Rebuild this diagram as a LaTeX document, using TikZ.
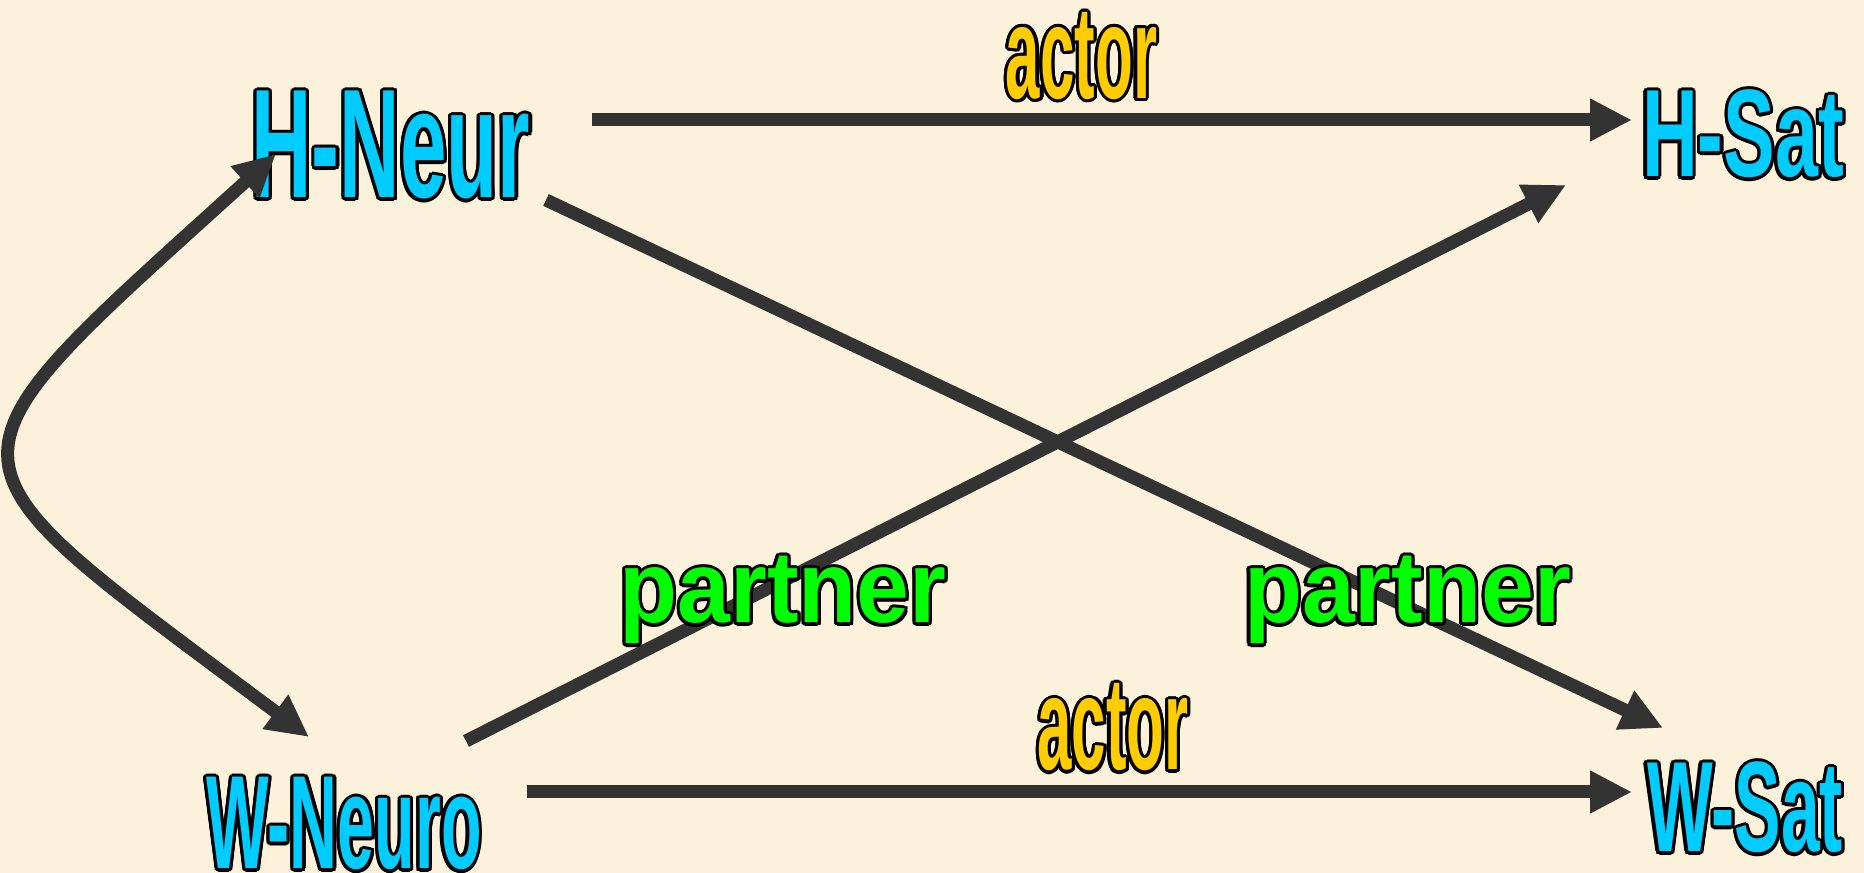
\documentclass[tikz,border=0pt]{standalone}
\usepackage{fontspec}
\setmainfont{Liberation Sans}
\usepackage{graphicx}
\usepackage{contour}
\usetikzlibrary{arrows.meta}

\definecolor{paper}{RGB}{252,242,220}
\definecolor{ink}{RGB}{51,51,51}
\definecolor{neurblue}{RGB}{0,204,255}
\definecolor{actorgold}{RGB}{255,204,0}
\definecolor{partnergreen}{RGB}{0,255,0}

\contourlength{0.9pt}
% outlined, stretched word: colour, x-scale, y-scale, text
\newcommand\wordart[4]{\contour{black}{\textcolor{#1}{\scalebox{#2}[#3]{#4}}}}

\tikzset{
	lbl/.style={inner sep=0pt, anchor=base, font=\fontsize{20pt}{24pt}\selectfont\bfseries},
	conn/.style={draw=ink, line width=3.7pt, -{Triangle[length=4.2mm,width=4mm]}},
}

\begin{document}
\begin{tikzpicture}
			\fill[paper] (0,0) rectangle (18.64,-8.73);
			\useasboundingbox (0,0) rectangle (18.64,-8.73);
			\node[lbl] (hneur) at (3.91,-1.98) {\wordart{neurblue}{1.19}{2.205}{H-Neur}};
			\node[lbl] (hsat) at (17.43,-1.77) {\wordart{neurblue}{1.10}{1.77}{H-Sat}};
			\node[lbl] (wneuro) at (3.44,-8.69) {\wordart{neurblue}{0.944}{1.89}{W-Neuro}};
			\node[lbl] (wsat) at (17.45,-8.52) {\wordart{neurblue}{0.99}{1.83}{W-Sat}};
			\coordinate (hn-r) at (5.92,-1.20);
			\coordinate (hs-l) at (16.32,-1.20);
			\coordinate (wn-r) at (5.27,-7.92);
			\coordinate (ws-l) at (16.32,-7.92);
			\coordinate (hn-d) at (5.46,-2.00);
			\coordinate (ws-u) at (16.63,-7.28);
			\coordinate (wn-u) at (4.66,-7.41);
			\coordinate (hs-d) at (15.66,-1.85);
			\coordinate (hn-l) at (2.76,-1.54);
			\coordinate (wn-l) at (3.09,-7.37);
			\draw[conn] (hn-r) -- (hs-l);
			\draw[conn] (wn-r) -- (ws-l);
			\draw[conn] (hn-d) -- (ws-u);
			\draw[conn] (wn-u) -- (hs-d);
			\draw[conn, {Triangle[length=4.2mm,width=4mm]}-{Triangle[length=4.2mm,width=4mm]}] (wn-l) .. controls (-0.75,-4.49) and (-0.79,-4.76) .. (hn-l);
			\node[lbl] (actortop) at (10.815,-0.985) {\wordart{actorgold}{0.88}{1.88}{actor}};
			\node[lbl] (actorbot) at (11.13,-7.70) {\wordart{actorgold}{0.88}{1.88}{actor}};
			\node[lbl] (partnerl) at (7.83,-6.23) {\wordart{partnergreen}{1.35}{1.45}{partner}};
			\node[lbl] (partnerr) at (14.075,-6.23) {\wordart{partnergreen}{1.35}{1.45}{partner}};
\end{tikzpicture}
\end{document}
